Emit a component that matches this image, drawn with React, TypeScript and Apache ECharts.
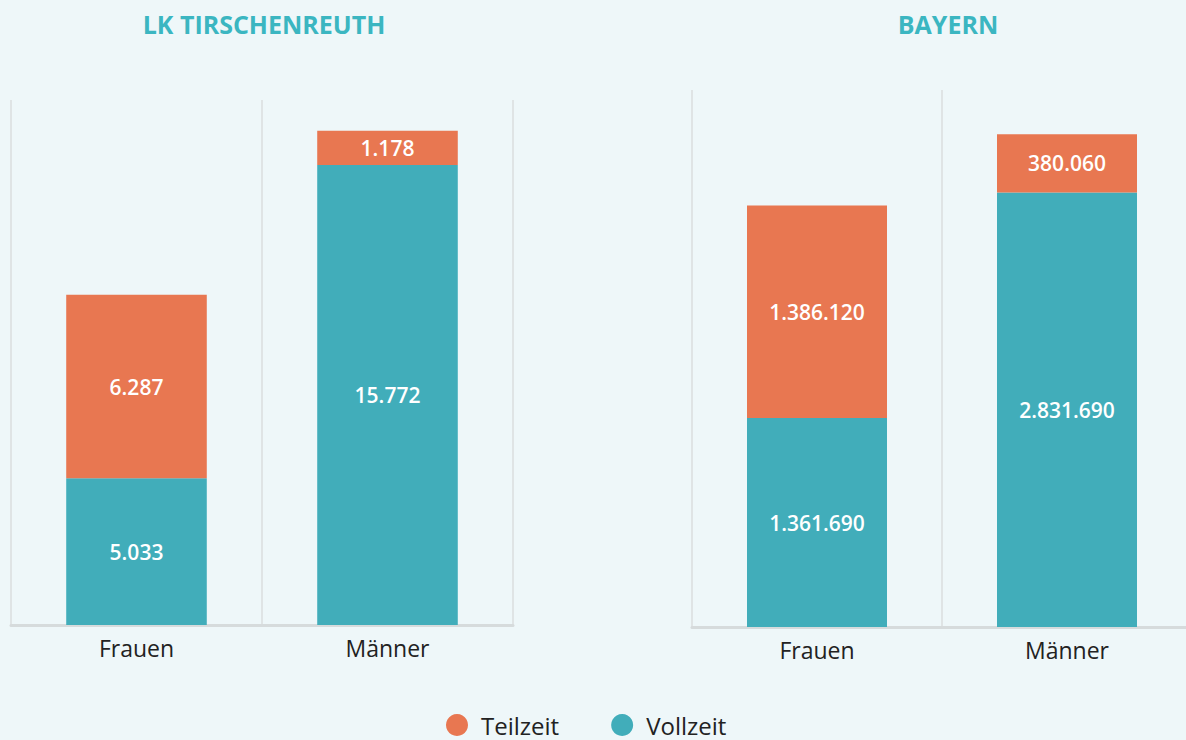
import React, { useEffect, useRef } from "react";
import * as echarts from "echarts";

const categories = ["Frauen", "Männer"];
const seriesNames = ["Teilzeit", "Vollzeit"];
const leftTitle = "LK TIRSCHENREUTH";
const rightTitle = "BAYERN";
const leftVollzeit = [5033, 15772];
const leftTeilzeit = [6287, 1178];
const rightVollzeit = [1361690, 2831690];
const rightTeilzeit = [1386120, 380060];

const ORANGE = "#e87751";
const TEAL = "#41adba";
const FONT = "Open Sans";

const fmt = (v: number) => String(Math.round(v)).replace(/\B(?=(\d{3})+(?!\d))/g, ".");

export default function App() {
  const ref = useRef<HTMLDivElement>(null);
  useEffect(() => {
    if (!ref.current) return;
    const chart = echarts.init(ref.current, undefined, { renderer: "svg" });
    const xAxisBase = (gridIndex: number) => ({
      type: "category" as const,
      gridIndex,
      data: categories,
      axisTick: { show: false },
      axisLine: { show: true, lineStyle: { color: "#d6dbdc", width: 3 } },
      axisLabel: { color: "#222", fontSize: 23, fontFamily: FONT, margin: 11 },
      splitLine: { show: true, lineStyle: { color: "#dfe4e5", width: 2 } },
    });
    const yAxisBase = (gridIndex: number, max: number) => ({
      type: "value" as const,
      gridIndex,
      min: 0,
      max,
      show: false,
      splitLine: { show: false },
    });
    const label = {
      show: true,
      position: "inside" as const,
      color: "#fff",
      fontSize: 21,
      fontWeight: 600 as const,
      fontFamily: FONT,
      formatter: (p: any) => fmt(p.value),
    };
    const bar = (name: string, data: number[], idx: number, stack: string, color: string) => ({
      name,
      type: "bar" as const,
      xAxisIndex: idx,
      yAxisIndex: idx,
      stack,
      data,
      barWidth: "56%",
      itemStyle: { color },
      label,
    });
    const titleStyle = { color: "#3bb6c1", fontSize: 25, fontWeight: "bold" as const, fontFamily: FONT };
    chart.setOption({
      animation: false,
      backgroundColor: "#eef7f9",
      title: [
        { text: leftTitle, left: 259, top: 6, textAlign: "center", textStyle: titleStyle },
        { text: rightTitle, left: 943, top: 6, textAlign: "center", textStyle: titleStyle },
      ],
      legend: {
        data: seriesNames,
        bottom: -2,
        left: 441,
        icon: "circle",
        itemWidth: 22,
        itemHeight: 22,
        itemGap: 52,
        textStyle: { color: "#222", fontSize: 24, fontFamily: FONT, padding: [0, 0, 0, 8] },
      },
      grid: [
        { left: 11, width: 502, top: 100, bottom: 115, containLabel: false },
        { left: 692, width: 500, top: 90, bottom: 113, containLabel: false },
      ],
      xAxis: [xAxisBase(0), xAxisBase(1)],
      yAxis: [yAxisBase(0, 18000), yAxisBase(1, 3500000)],
      series: [
        bar("Vollzeit", leftVollzeit, 0, "left", TEAL),
        bar("Teilzeit", leftTeilzeit, 0, "left", ORANGE),
        bar("Vollzeit", rightVollzeit, 1, "right", TEAL),
        bar("Teilzeit", rightTeilzeit, 1, "right", ORANGE),
      ],
    });
    return () => chart.dispose();
  }, []);
  return (
    <div
      style={{
        position: "fixed",
        left: 0,
        top: 0,
        width: 1186,
        height: 740,
        overflow: "hidden",
        background: "#eef7f9",
      }}
    >
      <div ref={ref} style={{ width: 1200, height: 740 }} />
    </div>
  );
}
